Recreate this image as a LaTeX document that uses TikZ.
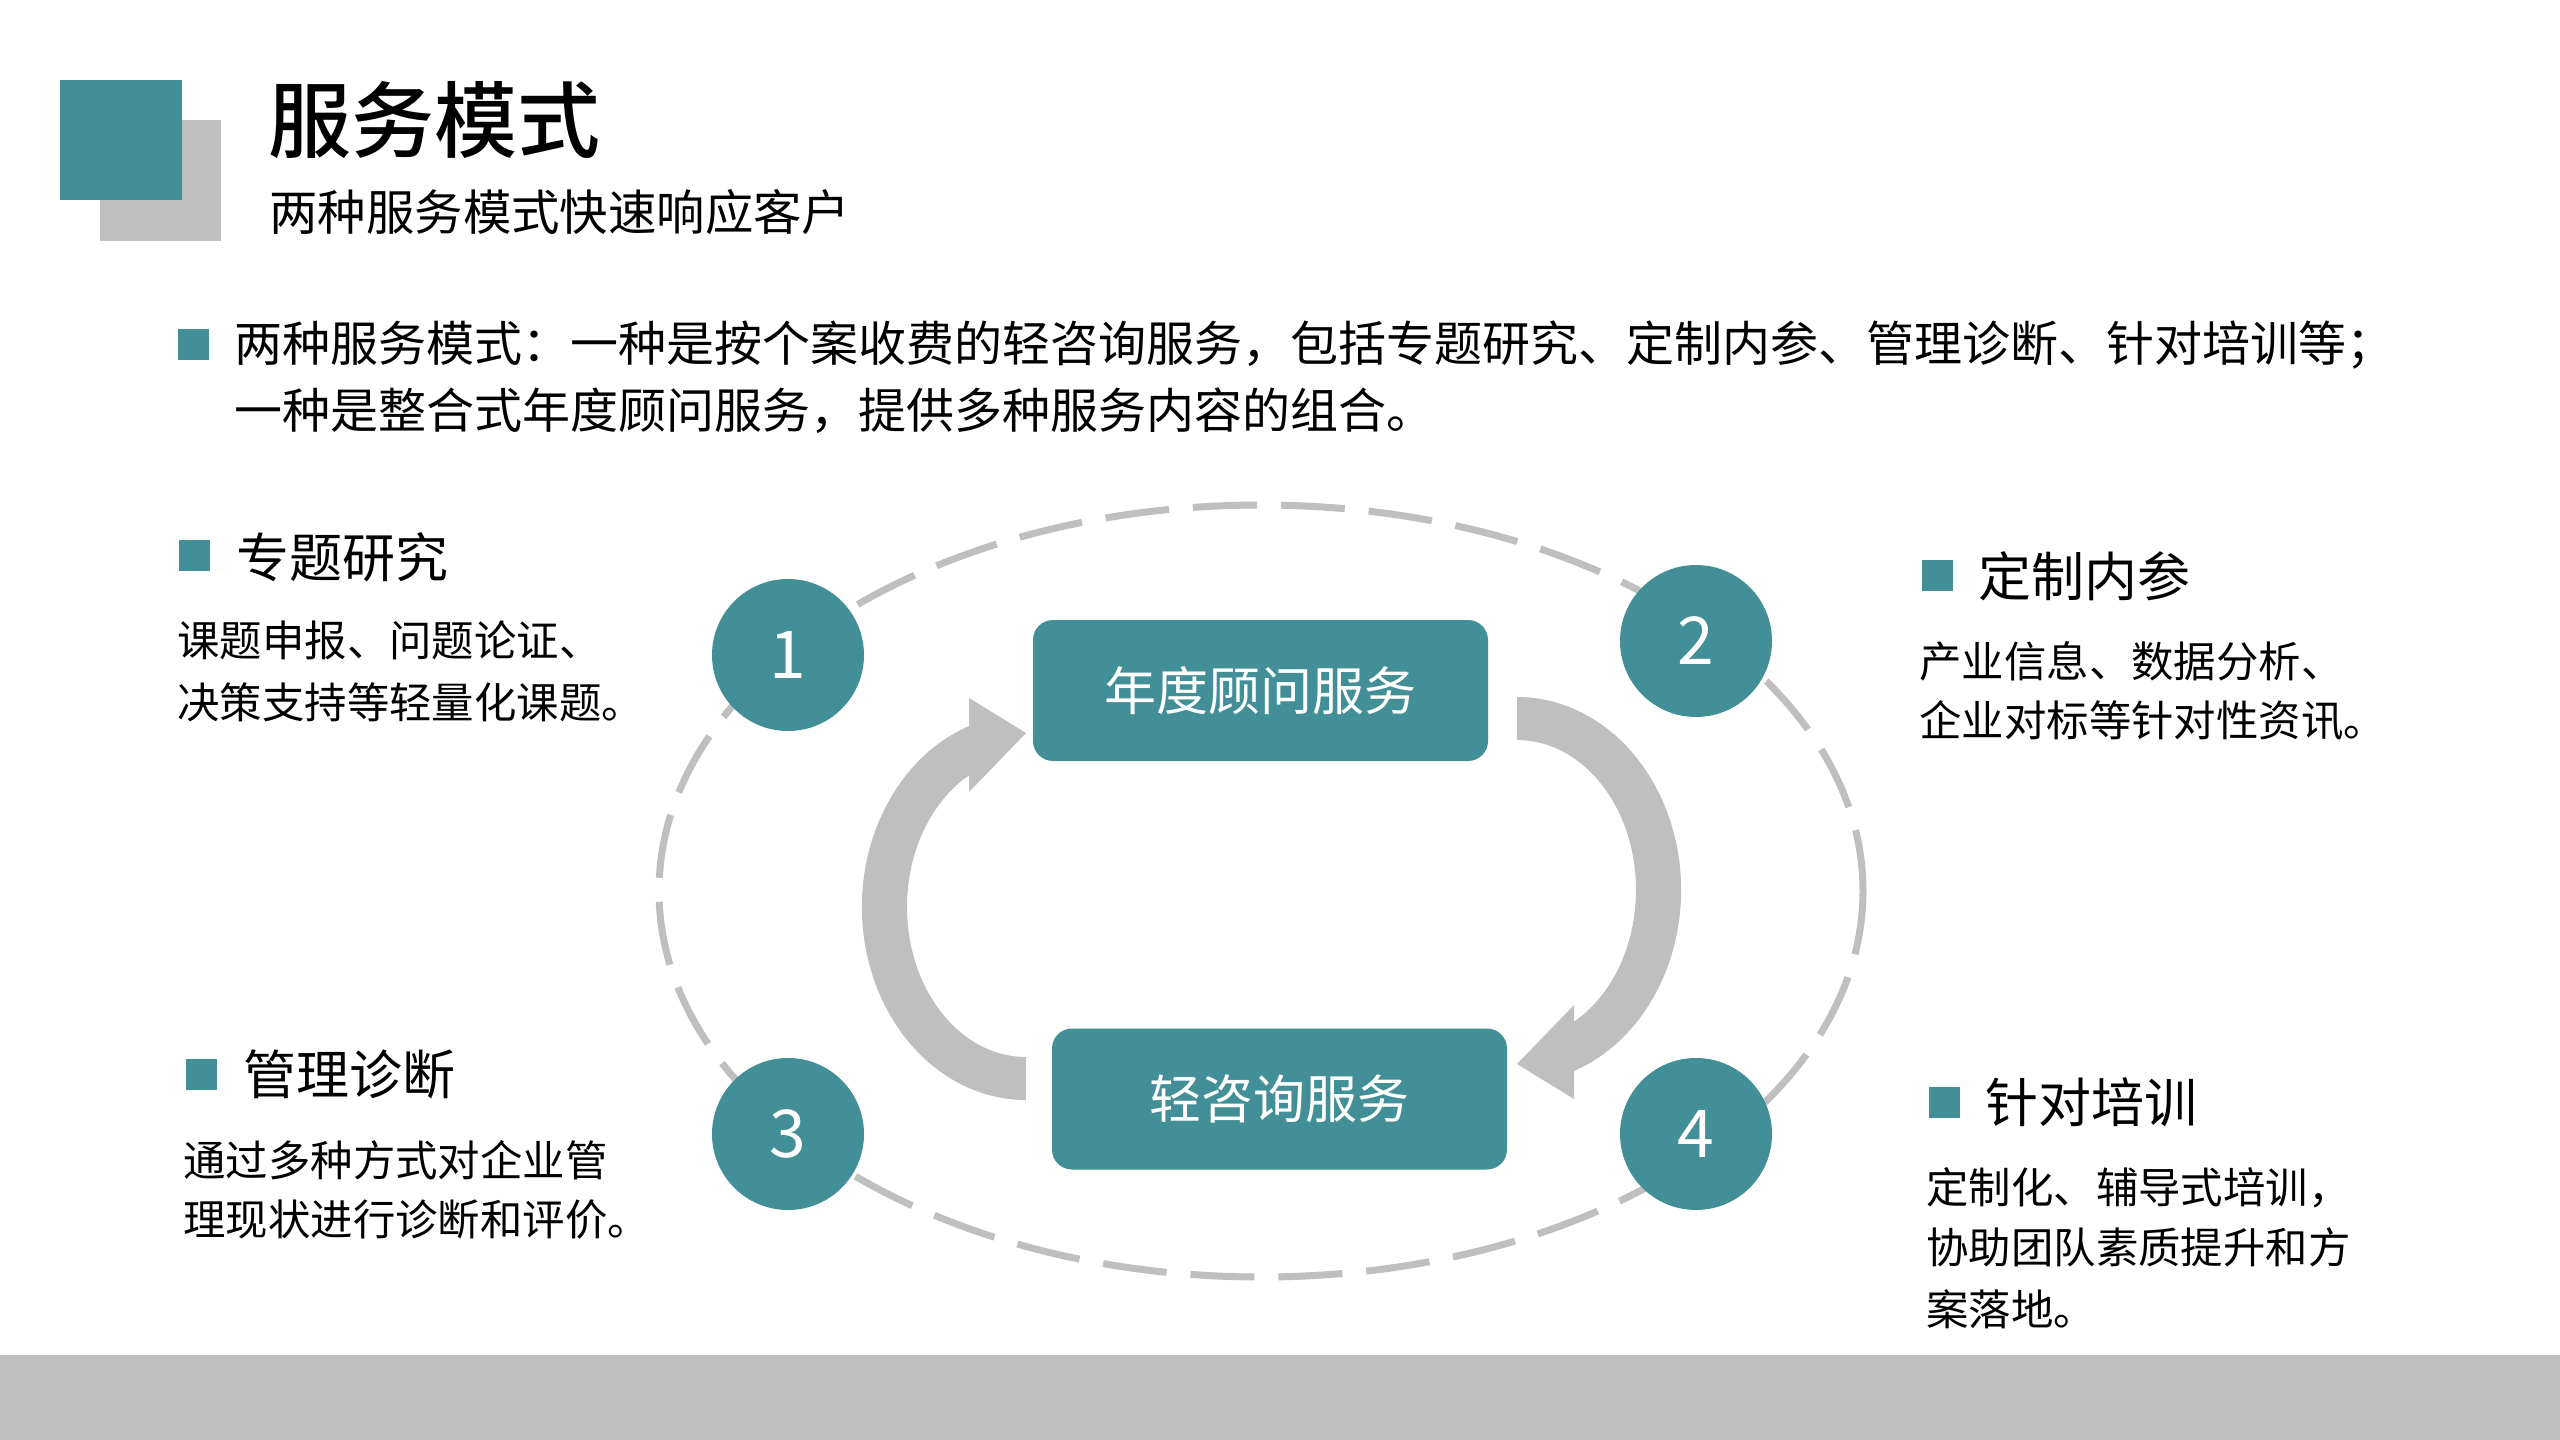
\documentclass[tikz,border=0pt]{standalone}
\usepackage{fontspec}
\setmainfont{Noto Sans CJK SC}
\newfontfamily\titlefont[UprightFont=* Medium]{Noto Sans CJK SC}
\definecolor{teal1}{HTML}{428F97}
\definecolor{grayA}{HTML}{BFBFBF}
\tikzset{
  txt/.style={anchor=base west, inner sep=0pt, text=black},
  bul/.style={fill=teal1, draw=none, minimum size=15.5pt, inner sep=0pt},
  numc/.style={circle, fill=teal1, minimum size=76pt, inner sep=0pt, text=white, font=\fontsize{33}{36}\selectfont},
  sbox/.style={rounded corners=10pt, fill=teal1, minimum width=227.5pt, minimum height=70.5pt, inner sep=0pt, text=white, font=\fontsize{26}{30}\selectfont},
  fh/.style={font=\fontsize{26.5}{30}\selectfont},
  fb/.style={font=\fontsize{21.2}{24}\selectfont},
  ft/.style={font=\fontsize{24}{28}\selectfont},
}
\begin{document}
\begin{tikzpicture}[x=0.5pt,y=-0.5pt]
\useasboundingbox (0,0) rectangle (2560,1440);
\fill[white] (0,0) rectangle (2560,1440);
% bottom band
\fill[grayA] (0,1355) rectangle (2560,1440);
% title squares
\fill[grayA] (100,120) rectangle (221,241);
\fill[teal1] (60,80) rectangle (182,200);
\node[txt, font=\fontsize{41.5}{46}\selectfont\titlefont] (title) at (268,151) {服务模式};
\node[txt, font=\fontsize{24.2}{30}\selectfont] (subtitle) at (269,230) {两种服务模式快速响应客户};
% top body
\node[bul] (b0) at (193,344) {};
\node[txt, ft] (t1) at (234,361) {两种服务模式：一种是按个案收费的轻咨询服务，包括专题研究、定制内参、管理诊断、针对培训等；};
\node[txt, ft] (t2) at (234,428) {一种是整合式年度顾问服务，提供多种服务内容的组合。};
% side blocks
\node[bul] (b1) at (194.5,555.5) {};
\node[txt, fh] (h1) at (236,577) {专题研究};
\node[txt, fb] (h1a) at (177,656) {课题申报、问题论证、};
\node[txt, fb] (h1b) at (177,718) {决策支持等轻量化课题。};
\node[bul] (b2) at (1937.5,575.5) {};
\node[txt, fh] (h2) at (1978,596) {定制内参};
\node[txt, fb] (h2a) at (1919,677) {产业信息、数据分析、};
\node[txt, fb] (h2b) at (1919,736) {企业对标等针对性资讯。};
\node[bul] (b3) at (201.5,1074.5) {};
\node[txt, fh] (h3) at (243,1094) {管理诊断};
\node[txt, fb] (h3a) at (183,1176) {通过多种方式对企业管};
\node[txt, fb] (h3b) at (183,1235) {理现状进行诊断和评价。};
\node[bul] (b4) at (1944.5,1102.5) {};
\node[txt, fh] (h4) at (1985,1122) {针对培训};
\node[txt, fb] (h4a) at (1926,1203) {定制化、辅导式培训，};
\node[txt, fb] (h4b) at (1926,1263) {协助团队素质提升和方};
\node[txt, fb] (h4c) at (1926,1325) {案落地。};
% dashed ellipse
\draw[grayA, line width=3.5pt, dash pattern=on 32pt off 12pt] (1261,891) ellipse[x radius=602, y radius=386];
% curved arrows
\fill[grayA] (969,775) -- (969,792) -- (1026,733) -- (969,698) -- (969,726)
  arc[start angle=249.7, end angle=90, x radius=164, y radius=193]
  -- (1026,1057) arc[start angle=90, end angle=241.4, x radius=119, y radius=150] -- cycle;
\begin{scope}[rotate around={180:(1271.5,898.5)}]
\fill[grayA] (969,775) -- (969,792) -- (1026,733) -- (969,698) -- (969,726)
  arc[start angle=249.7, end angle=90, x radius=164, y radius=193]
  -- (1026,1057) arc[start angle=90, end angle=241.4, x radius=119, y radius=150] -- cycle;
\end{scope}
% boxes
\node[sbox] (annual) at (1260.5,690.5) {年度顾问服务};
\node[sbox] (light) at (1279.5,1099) {轻咨询服务};
% numbered circles
\node[numc] (n1) at (788,655) {1};
\node[numc] (n2) at (1696,641) {2};
\node[numc] (n3) at (788,1134) {3};
\node[numc] (n4) at (1696,1134) {4};
\end{tikzpicture}
\end{document}
